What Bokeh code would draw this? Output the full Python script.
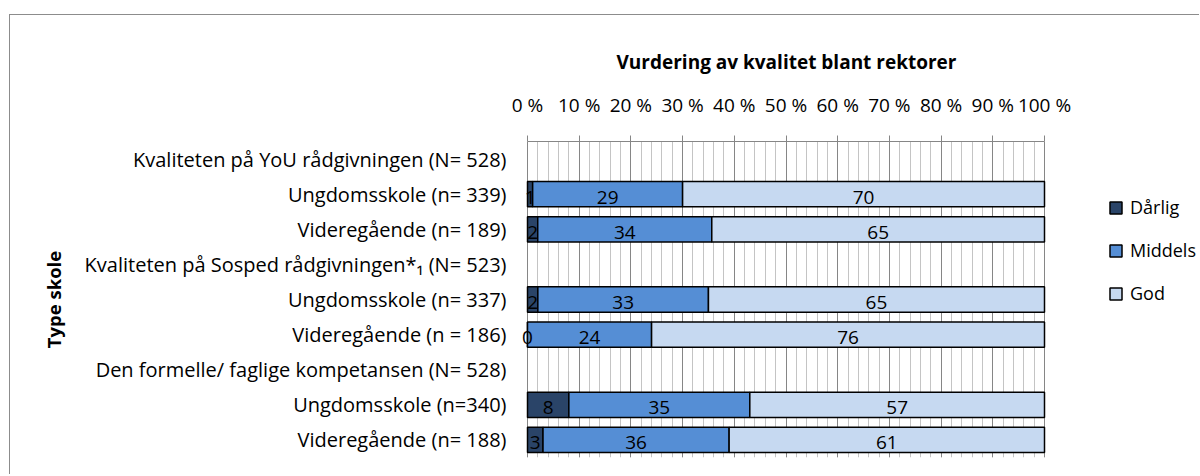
from bokeh.plotting import figure
from bokeh.models import FactorRange, Range1d, FixedTicker, ColumnDataSource, Legend, LegendItem, Title
from bokeh.embed import file_html
from bokeh.resources import INLINE
from bokeh.core.properties import value

categories = [
    "Kvaliteten på YoU rådgivningen (N= 528)",
    "Ungdomsskole (n= 339)",
    "Videregående (n= 189)",
    "Kvaliteten på Sosped rådgivningen*₁ (N= 523)",
    "Ungdomsskole (n= 337)",
    "Videregående (n = 186)",
    "Den formelle/ faglige kompetansen (N= 528)",
    "Ungdomsskole (n=340)",
    "Videregående (n= 188)",
]
series_names = ["Dårlig", "Middels", "God"]
darlig = [None, 1, 2, None, 2, 0, None, 8, 3]
middels = [None, 29, 34, None, 33, 24, None, 35, 36]
god = [None, 70, 65, None, 65, 76, None, 57, 61]
tick_values = list(range(0, 101, 10))
tick_labels = [f"{t} %" for t in tick_values]
title_text = "Vurdering av kvalitet blant rektorer"
y_title = "Type skole"

colors = ["#2A4468", "#558ED5", "#C6D9F1"]
FONT = "Open Sans"

# build stacked, normalised data (100 % stacked)
series = [darlig, middels, god]
rows = [i for i, v in enumerate(darlig) if v is not None]
data = {"cat": [categories[i] for i in rows]}
lefts = [[] for _ in series]
rights = [[] for _ in series]
mids = [[] for _ in series]
texts = [[] for _ in series]
for i in rows:
    total = sum(s[i] for s in series)
    acc = 0.0
    for k, s in enumerate(series):
        w = 100.0 * s[i] / total
        lefts[k].append(acc)
        rights[k].append(acc + w)
        mids[k].append(acc + w / 2)
        texts[k].append(str(s[i]))
        acc += w
for k in range(len(series)):
    data[f"l{k}"] = lefts[k]
    data[f"r{k}"] = rights[k]
    data[f"m{k}"] = mids[k]
    data[f"t{k}"] = texts[k]
src = ColumnDataSource(data)

# frame spans from a little left of 0 % to the right edge (legend lives there)
PX_PER_UNIT = 5.17
FRAME_LEFT_PAD = 9      # px left of 0 %
FRAME_RIGHT_PAD = 673   # px right of 0 % up to the page edge
x_start = -FRAME_LEFT_PAD / PX_PER_UNIT
x_end = FRAME_RIGHT_PAD / PX_PER_UNIT

p = figure(
    width=1190, height=460,
    y_range=FactorRange(*reversed(categories)),
    x_range=Range1d(x_start, x_end),
    x_axis_location="above",
    output_backend="svg", toolbar_location=None,
    min_border_left=508, min_border_right=0,
    min_border_top=126, min_border_bottom=18,
)
p.margin = (14, 0, 0, 9)
p.styles = {"border-left": "1px solid #8c8c8c", "border-top": "1px solid #8c8c8c"}
p.outline_line_color = None
p.background_fill_color = "white"

ticker = FixedTicker(ticks=tick_values, minor_ticks=list(range(0, 101, 2)))
xa = p.xaxis[0]
xa.ticker = ticker
xa.bounds = (0, 100)
xa.major_label_overrides = {t: l for t, l in zip(tick_values, tick_labels)}
xa.major_tick_out = 6
xa.major_tick_in = 0
xa.minor_tick_out = 0
xa.minor_tick_in = 0
xa.axis_line_color = "#868686"
xa.major_tick_line_color = "#868686"
xa.major_label_text_font = FONT
xa.major_label_text_font_size = "19px"
xa.major_label_text_color = "black"
xa.major_label_standoff = 18

title = Title(text=title_text, align="left", offset=98, text_font=FONT,
              text_font_size="19px", text_font_style="bold", text_color="black",
              standoff=27)
p.add_layout(title, "above")

p.xgrid.ticker = ticker
p.xgrid.grid_line_color = "#868686"
p.xgrid.minor_grid_line_color = "#c4c4c4"
p.ygrid.visible = False

ya = p.yaxis[0]
ya.axis_line_color = None
ya.major_tick_line_color = None
ya.minor_tick_line_color = None
ya.major_label_text_font = FONT
ya.major_label_text_font_size = "20px"
ya.major_label_text_color = "black"
ya.major_label_standoff = 6
ya.axis_label = y_title
ya.axis_label_text_font = FONT
ya.axis_label_text_font_size = "18.5px"
ya.axis_label_text_font_style = "bold"
ya.axis_label_text_color = "black"
ya.axis_label_standoff = 16

items = []
for k, name in enumerate(series_names):
    r = p.hbar(y="cat", left=f"l{k}", right=f"r{k}", height=0.72, source=src,
               fill_color=colors[k], line_color="black", line_width=1.5)
    items.append(LegendItem(label=name, renderers=[r]))
for k in range(len(series)):
    p.text(x=f"m{k}", y="cat", text=f"t{k}", source=src, text_align="center",
           text_baseline="middle", text_font=value(FONT), text_font_size="19px",
           text_color="black", y_offset=3)

legend = Legend(items=items, location=(590, 152), orientation="vertical")
legend.glyph_width = 15
legend.glyph_height = 15
legend.label_height = 20
legend.spacing = 19
legend.label_standoff = 7
legend.padding = 0
legend.margin = 0
legend.border_line_color = None
legend.background_fill_alpha = 0
legend.label_text_font = FONT
legend.label_text_font_size = "18px"
legend.label_text_color = "black"
p.add_layout(legend, "center")

open("out.html", "w").write(file_html(p, INLINE))
